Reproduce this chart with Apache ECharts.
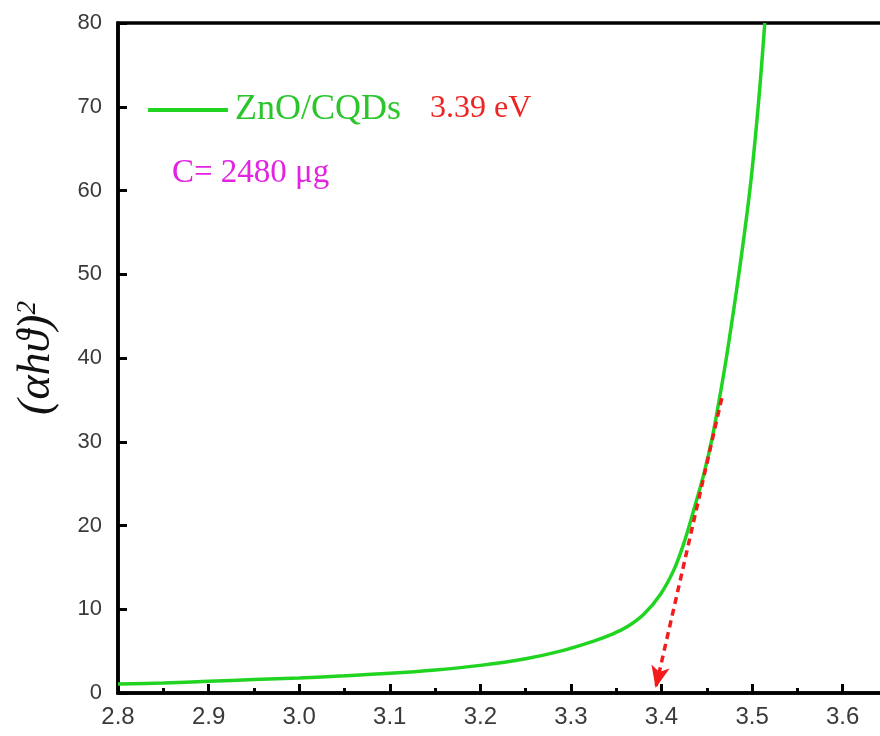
<!DOCTYPE html>
<html>
<head>
<meta charset="utf-8">
<script src="https://cdn.jsdelivr.net/npm/echarts@6/dist/echarts.min.js"></script>
<style>
html,body{margin:0;padding:0;background:#fff;overflow:hidden;}
#c{width:888px;height:736px;}
</style>
</head>
<body>
<div id="c"></div>
<script>
// ---- data ----
const seriesName = 'ZnO/CQDs';
const photonEnergy = [2.80, 2.85, 2.90, 2.95, 3.00, 3.05, 3.10, 3.15, 3.20, 3.25, 3.2884, 3.3252, 3.345, 3.362, 3.3804, 3.3989, 3.4136, 3.4247, 3.4357, 3.4468, 3.456, 3.464, 3.472, 3.486, 3.498, 3.507, 3.514];
const absorption = [1.07, 1.2, 1.4, 1.6, 1.8, 2.05, 2.35, 2.75, 3.3, 4.1, 5.0, 6.2, 7.0, 7.9, 9.4, 11.8, 14.7, 17.9, 21.9, 26.2, 30.5, 35.2, 40.3, 50.5, 60.5, 70.4, 80];
const tangentX = [3.4665, 3.3935];
const tangentY = [35.2, 0.6];
const bandGapLabel = '3.39 eV';
const concLabel = 'C= 2480 μg';
const xTickMin = 2.8, xTickMax = 3.65, xTickStep = 0.1;
const yTickMin = 0, yTickMax = 80, yTickStep = 10;

const chart = echarts.init(document.getElementById('c'));
const green = '#22d422';
const serif = '"Liberation Serif", "Times New Roman", serif';
const sans = '"Liberation Sans", Arial, sans-serif';

chart.setOption({
  animation: false,
  backgroundColor: '#fff',
  grid: { left: 118, top: 23, right: 0, bottom: 43, show: true, borderColor: '#000', borderWidth: 3.5, containLabel: false },
  legend: {
    left: 143, top: 87,
    icon: 'rect', itemWidth: 80, itemHeight: 4, itemGap: 8,
    textStyle: { fontFamily: serif, fontSize: 36, color: '#2cc62c', padding: [0, 0, 0, 2] },
    data: [seriesName]
  },
  xAxis: {
    type: 'value', min: xTickMin, max: xTickMax, interval: xTickStep,
    axisLine: { lineStyle: { color: '#000', width: 3.5 } },
    axisTick: { inside: true, length: 9, lineStyle: { color: '#000', width: 3 } },
    minorTick: { show: true, splitNumber: 2, length: 5, lineStyle: { color: '#000', width: 3 } },
    splitLine: { show: false },
    axisLabel: { fontFamily: sans, fontSize: 24, color: '#3a3a3a', margin: 12, showMaxLabel: false,
      formatter: v => v.toFixed(1) }
  },
  yAxis: {
    type: 'value', min: yTickMin, max: yTickMax, interval: yTickStep,
    name: '{a|(αhϑ)}{b|2}', nameLocation: 'middle', nameGap: 58, nameRotate: 90,
    nameTextStyle: {
      fontFamily: serif, fontStyle: 'italic', fontSize: 46, color: '#111',
      rich: {
        a: { fontFamily: serif, fontStyle: 'italic', fontSize: 46, color: '#111' },
        b: { fontFamily: serif, fontSize: 27, color: '#111', verticalAlign: 'top' }
      }
    },
    axisLine: { show: true, lineStyle: { color: '#000', width: 3.5 } },
    axisTick: { inside: true, length: 9, lineStyle: { color: '#000', width: 3 } },
    splitLine: { show: false },
    axisLabel: { fontFamily: sans, fontSize: 22, color: '#3a3a3a', margin: 16 }
  },
  graphic: [
    { type: 'text', left: 430, top: 93, style: { text: bandGapLabel, font: '32px ' + serif, fill: '#ee2424' } },
    { type: 'text', left: 172, top: 157, style: { text: concLabel, font: '33px ' + serif, fill: '#e224e2' } }
  ],
  series: [
    {
      name: seriesName, type: 'line', showSymbol: false, smooth: 0.35,
      lineStyle: { color: green, width: 3.5 }, itemStyle: { color: green },
      data: photonEnergy.map((x, i) => [x, absorption[i]]),
      z: 3
    },
    {
      name: 'tangent', type: 'line', showSymbol: false, data: [],
      markLine: {
        silent: true, symbol: ['none', 'arrow'], symbolSize: [14, 22],
        label: { show: false },
        lineStyle: { color: '#f21c1c', width: 3.5, type: [7, 5] },
        data: [[{ coord: [tangentX[0], tangentY[0]] }, { coord: [tangentX[1], tangentY[1]] }]]
      },
      z: 4
    }
  ]
});
</script>
</body>
</html>
